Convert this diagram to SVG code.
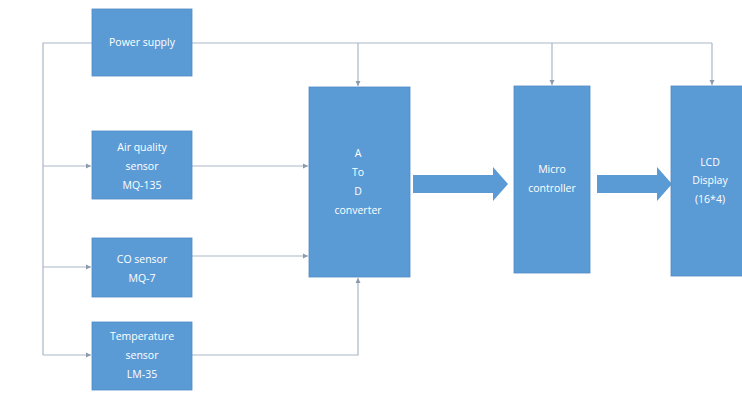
<svg xmlns="http://www.w3.org/2000/svg" width="742" height="399" viewBox="0 0 742 399">
<style>
.box{fill:#5B9BD5;stroke:#4F8BC4;stroke-width:0.8}
.t{font-family:"Open Sans","Liberation Sans",sans-serif;font-size:10.5px;fill:#ffffff;text-anchor:middle;dominant-baseline:middle}
.ln{stroke:#A9B8C8;stroke-width:1.2;fill:none}
.big{fill:#5B9BD5}
</style>
<defs>
<marker id="ah" markerWidth="6" markerHeight="6" refX="5" refY="3" orient="auto" markerUnits="userSpaceOnUse">
<path d="M0,0.5 L5,3 L0,5.5 Z" fill="#8C9BAB"/>
</marker>
</defs>
<rect width="742" height="399" fill="#ffffff"/>
<g id="connectors">
<path class="ln" d="M92,43 H43 V355"/>
<path class="ln" d="M43,166 H91" marker-end="url(#ah)"/>
<path class="ln" d="M43,267 H91" marker-end="url(#ah)"/>
<path class="ln" d="M43,355 H91" marker-end="url(#ah)"/>
<path class="ln" d="M192,43 H712"/>
<path class="ln" d="M358,43 V86" marker-end="url(#ah)"/>
<path class="ln" d="M552,43 V85" marker-end="url(#ah)"/>
<path class="ln" d="M712,43 V85" marker-end="url(#ah)"/>
<path class="ln" d="M192,166 H308" marker-end="url(#ah)"/>
<path class="ln" d="M192,256 H308" marker-end="url(#ah)"/>
<path class="ln" d="M192,355 H358 V278" marker-end="url(#ah)"/>
<path class="big" d="M413,175 H493 V167 L508,184 L493,201 V193 H413 Z"/>
<path class="big" d="M597,175 H657 V167 L672,184 L657,201 V193 H597 Z"/>
</g>
<g id="power">
<rect class="box" x="92" y="9" width="100" height="67"/>
<text class="t" x="142" y="43">Power supply</text>
</g>
<g id="air">
<rect class="box" x="92" y="131" width="100" height="68"/>
<text class="t" x="142" y="148">Air quality</text>
<text class="t" x="142" y="167">sensor</text>
<text class="t" x="142" y="186">MQ-135</text>
</g>
<g id="co">
<rect class="box" x="92" y="238" width="100" height="59"/>
<text class="t" x="142" y="260">CO sensor</text>
<text class="t" x="142" y="279">MQ-7</text>
</g>
<g id="temp">
<rect class="box" x="92" y="322" width="100" height="68"/>
<text class="t" x="142" y="337">Temperature</text>
<text class="t" x="142" y="356">sensor</text>
<text class="t" x="142" y="375">LM-35</text>
</g>
<g id="adc">
<rect class="box" x="309" y="87" width="101" height="190"/>
<text class="t" x="358" y="154">A</text>
<text class="t" x="358" y="173">To</text>
<text class="t" x="358" y="192">D</text>
<text class="t" x="358" y="211">converter</text>
</g>
<g id="micro">
<rect class="box" x="514" y="86" width="76" height="187"/>
<text class="t" x="552" y="170">Micro</text>
<text class="t" x="552" y="189">controller</text>
</g>
<g id="lcd">
<rect class="box" x="671" y="86" width="75" height="190"/>
<text class="t" x="710" y="163">LCD</text>
<text class="t" x="710" y="181">Display</text>
<text class="t" x="710" y="200">(16*4)</text>
</g>
</svg>
